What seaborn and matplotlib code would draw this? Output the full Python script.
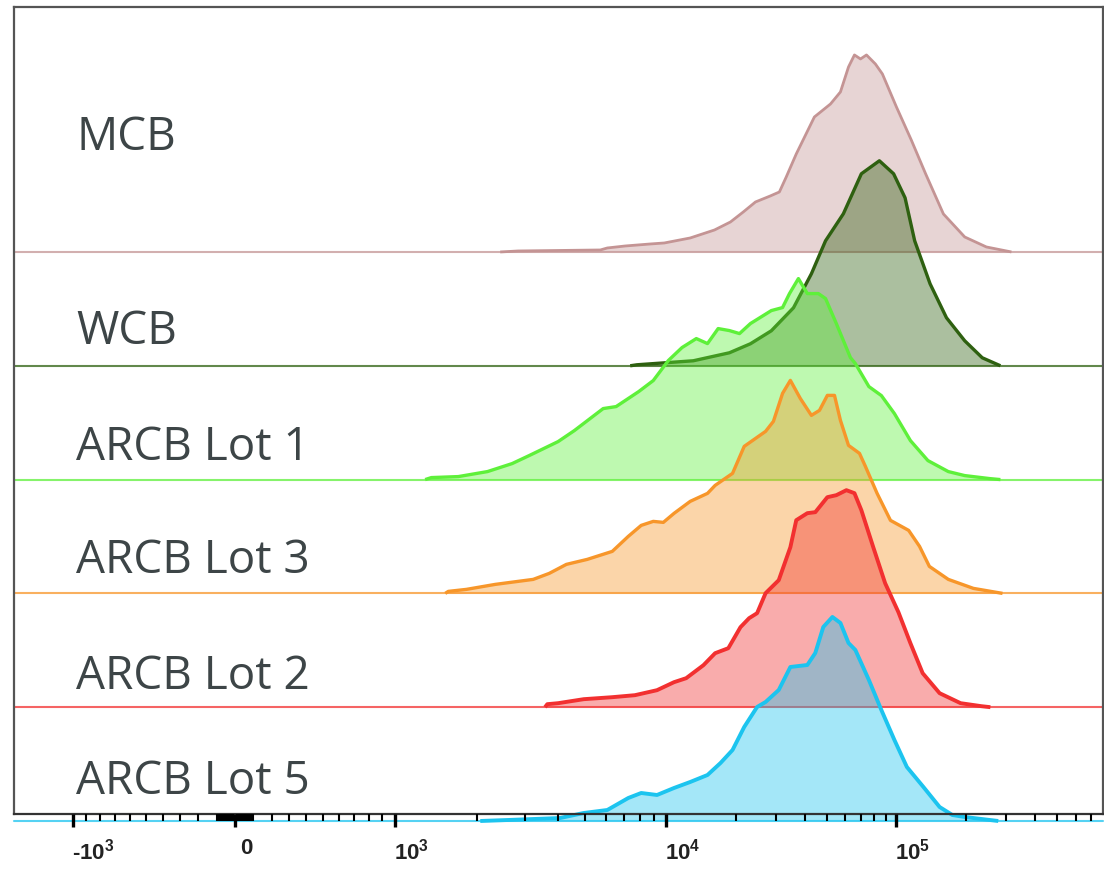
import numpy as np
import pandas as pd
import matplotlib
matplotlib.use("Agg")
import matplotlib.pyplot as plt
import matplotlib.transforms as mtransforms
from matplotlib.ticker import FixedLocator, FixedFormatter
import seaborn as sns

# ---------------------------------------------------------------- data
samples = ["MCB", "WCB", "ARCB Lot 1", "ARCB Lot 3", "ARCB Lot 2", "ARCB Lot 5"]
line_colors = ["#c49494", "#2e6010", "#5ef03a", "#f7962a", "#f23030", "#1cc4ef"]

X_MIN, X_MAX = -1650, 790000

mcb_x = [X_MIN, 2440, 2840, 5710, 6060, 7060, 8730, 9830, 12700, 16200, 19000,
         21600, 24400, 28300, 31000, 33200, 36700, 44000, 51700, 57100, 61900,
         65700, 69800, 74100, 81000, 86900, 100000, 116000, 134000, 160000,
         198000, 246000, 316000, X_MAX]
mcb_count = [0, 0, 1, 2, 4, 6, 8, 9, 14, 22, 30,
             40, 50, 56, 60, 75, 98, 135, 148, 160, 185,
             197, 193, 197, 188, 178, 145, 112, 78, 38,
             15, 5, 0, 0]

wcb_x = [X_MIN, 7360, 7790, 13100, 18800, 23200, 28600, 35700, 42700, 49200,
         58800, 70400, 84300, 97200, 109000, 120000, 140000, 165000, 198000,
         236000, 283000, X_MAX]
wcb_count = [0, 0, 1, 5, 13, 22, 35, 58, 92, 125,
             152, 192, 205, 192, 168, 125, 82, 48, 25,
             8, 0, 0]

lot1_x = [X_MIN, 1290, 1360, 1710, 2190, 2700, 3120, 3990, 4580, 5850, 6530,
          7910, 8950, 10200, 11700, 13500, 15100, 16800, 18800, 20800, 23200,
          28600, 32000, 34300, 37500, 41000, 45800, 49200, 54800, 63100, 66300,
          75900, 86000, 98000, 115000, 137000, 168000, 198000, 254000, 283000,
          X_MAX]
lot1_count = [0, 0, 2, 3, 8, 16, 24, 38, 49, 71, 73,
              88, 99, 119, 132, 141, 136, 151, 149, 146, 156,
              169, 172, 186, 201, 186, 186, 181, 156, 122, 116,
              93, 84, 66, 39, 19, 8, 4, 1, 0,
              0]

lot3_x = [X_MIN, 1530, 1570, 1830, 2340, 3230, 3700, 4280, 5110, 6320, 7240,
          8080, 8950, 9750, 10800, 12700, 15100, 16300, 19400, 21800, 27000,
          29200, 32000, 34600, 38200, 42700, 46300, 50100, 53800, 57100, 61900,
          69100, 73300, 82400, 94200, 113000, 126000, 139000, 168000, 216000,
          289000, X_MAX]
lot3_count = [0, 0, 2, 4, 9, 14, 20, 29, 34, 42, 57,
              68, 72, 71, 80, 92, 100, 108, 120, 147, 162,
              172, 200, 213, 195, 178, 183, 198, 198, 173, 148,
              140, 127, 100, 73, 63, 47, 27, 14, 5,
              0, 0]

lot2_x = [X_MIN, 3570, 3640, 3990, 4960, 6320, 7660, 9240, 10800, 12200, 14500,
          16300, 18600, 21000, 22900, 24800, 27000, 30800, 34600, 36700, 41000,
          44400, 50100, 54800, 60600, 65700, 70400, 79300, 89300, 102000,
          115000, 130000, 154000, 190000, 234000, 256000, X_MAX]
lot2_count = [0, 0, 3, 4, 8, 10, 12, 17, 25, 29, 42,
              54, 59, 80, 89, 94, 114, 127, 160, 187, 194,
              195, 210, 212, 217, 214, 197, 160, 124, 95,
              64, 34, 14, 4, 1, 0, 0]

lot5_x = [X_MIN, 2060, 2610, 4060, 4960, 6060, 7240, 8080, 9240, 10800, 12700,
          15100, 17200, 19400, 21800, 24800, 27000, 30800, 34600, 41000, 44400,
          48100, 52700, 57100, 61900, 66300, 75900, 86000, 98000, 111000,
          131000, 154000, 175000, 198000, 277000, X_MAX]
lot5_count = [0, 0, 1, 3, 8, 11, 23, 28, 26, 33, 39,
              46, 58, 71, 94, 114, 119, 131, 154, 156, 168,
              194, 204, 198, 178, 171, 141, 111, 81, 54,
              34, 14, 6, 4, 0, 0]

series_x = [mcb_x, wcb_x, lot1_x, lot3_x, lot2_x, lot5_x]
series_count = [mcb_count, wcb_count, lot1_count, lot3_count, lot2_count, lot5_count]

major_ticks = [-1000, 0, 1000, 10000, 100000]
major_labels = ["-$10^{3}$", "0", "$10^{3}$", "$10^{4}$", "$10^{5}$"]
minor_ticks = ([-900, -800, -700, -600, -500, -400, -300, -200]
               + list(range(-100, 101, 10))
               + [200, 300, 400, 500, 600, 700, 800, 900]
               + [k * 1000 for k in range(2, 10)]
               + [k * 10000 for k in range(2, 10)]
               + [k * 100000 for k in range(2, 8)])

# ------------------------------------------------- biexponential x scale
# linear (arcsinh) between -10^3 and 10^3, one log decade per segment beyond
seg_u = np.array([-3.0, -2.0, -1.0, 0.0, 1.0, 2.0, 3.0, 4.0, 5.0])
seg_width = np.array([230, 271, 162, 160, 271, 230, 230, 230], dtype=float)
seg_pos = np.concatenate([[0.0], np.cumsum(seg_width)])
LIN_W = 950.0
LIN_NORM = np.arcsinh(1000.0 / LIN_W)


def _to_u(x):
    x = np.asarray(x, dtype=float)
    a = np.abs(x)
    lin = np.arcsinh(x / LIN_W) / LIN_NORM
    lg = np.sign(x) * (1.0 + np.log10(np.maximum(a, 1e-9) / 1000.0))
    return np.where(a <= 1000.0, lin, lg)


def _from_u(u):
    u = np.asarray(u, dtype=float)
    lin = LIN_W * np.sinh(u * LIN_NORM)
    lg = np.sign(u) * 1000.0 * 10.0 ** (np.abs(u) - 1.0)
    return np.where(np.abs(u) <= 1.0, lin, lg)


def biex_forward(x):
    return np.interp(_to_u(x), seg_u, seg_pos)


def biex_inverse(p):
    return _from_u(np.interp(np.asarray(p, dtype=float), seg_pos, seg_u))


# ---------------------------------------------------------------- figure
sns.set_theme(style="white")
plt.rcParams.update({
    "mathtext.fontset": "custom",
    "mathtext.rm": "Liberation Sans:bold",
    "mathtext.bf": "Liberation Sans:bold",
    "mathtext.default": "rm",
})
plt.rcParams["font.family"] = ["Open Sans", "DejaVu Sans"]

fig = plt.figure(figsize=(11.04, 8.69), dpi=100)
ax = fig.add_axes([0.0127, 0.0633, 0.9864, 0.9287])
ax.set_xscale("function", functions=(biex_forward, biex_inverse))

COUNTS_PER_LANE = 113.8
n = len(samples)
line_widths = [2.0, 2.4, 2.4, 2.4, 2.8, 2.8]

for i, (name, xs, cs, col, lw) in enumerate(
        zip(samples, series_x, series_count, line_colors, line_widths)):
    lane = n - 1 - i
    xs = np.asarray(xs, dtype=float)
    cs = np.asarray(cs, dtype=float)
    level = lane + cs / COUNTS_PER_LANE
    z = 2.0 + 0.05 * i
    bottom_lane = (lane == 0)

    # filled histogram
    ax.fill_between(xs, lane, level, color=col, alpha=0.4, linewidth=0,
                    zorder=z, clip_on=not bottom_lane)
    # thin lane baseline
    ax.axhline(lane, color=col, linewidth=1.5, alpha=0.75, zorder=z + 0.005,
               clip_on=not bottom_lane)
    # outline over the populated channels
    nz = np.flatnonzero(cs > 0)
    lo, hi = max(nz[0] - 1, 0), min(nz[-1] + 1, len(cs) - 1)
    df = pd.DataFrame({"intensity": xs[lo:hi + 1], "level": level[lo:hi + 1]})
    sns.lineplot(data=df, x="intensity", y="level", ax=ax, color=col,
                 linewidth=lw, sort=False, estimator=None, zorder=z + 0.01,
                 clip_on=not bottom_lane, solid_capstyle="butt",
                 solid_joinstyle="round")

# sample names
label_lift = [0.90, 0.19, 0.17, 0.18, 0.16, 0.24]
name_tf = mtransforms.blended_transform_factory(ax.transAxes, ax.transData)
for i, name in enumerate(samples):
    lane = n - 1 - i
    ax.text(0.057, lane + label_lift[i], name, transform=name_tf,
            fontsize=33, color="#3d4547", ha="left", va="baseline",
            family=["Open Sans", "DejaVu Sans"])

ax.set_xlim(X_MIN, X_MAX)
ax.set_ylim(0.0615, 7.153)
ax.set_xlabel("")
ax.set_ylabel("")
ax.set_yticks([])

ax.xaxis.set_major_locator(FixedLocator(major_ticks))
ax.xaxis.set_major_formatter(FixedFormatter(major_labels))
ax.xaxis.set_minor_locator(FixedLocator(minor_ticks))
ax.tick_params(axis="x", which="major", direction="out", length=9.5, width=2.4,
               color="black", pad=8, labelsize=16, labelcolor="#222222", bottom=True)
ax.tick_params(axis="x", which="minor", direction="out", length=5, width=1.5,
               color="black", bottom=True)
ax.set_axisbelow(False)

for sp in ax.spines.values():
    sp.set_visible(True)
    sp.set_color("#555555")
    sp.set_linewidth(1.6)
ax.spines["bottom"].set_color("#333333")

for tl, val in zip(ax.get_xticklabels(), major_ticks):
    tl.set_fontfamily(["Liberation Sans", "DejaVu Sans"])
    tl.set_fontweight("bold")
    tl.set_horizontalalignment("left")
    shift = 5 if val == 0 else -1
    tl.set_transform(tl.get_transform() +
                     mtransforms.ScaledTranslation(shift / 100, 0, fig.dpi_scale_trans))

fig.savefig("out.png", dpi=100)
